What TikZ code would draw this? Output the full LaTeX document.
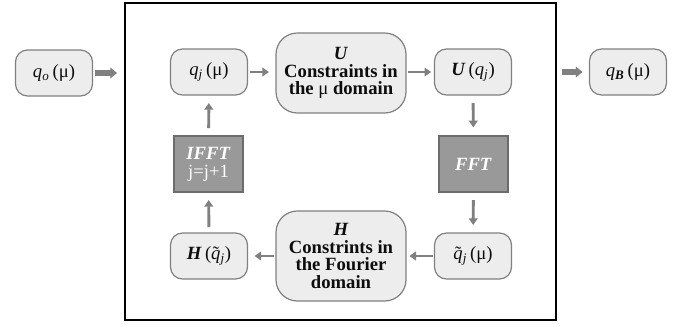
\documentclass[tikz,border=0pt]{standalone}
\usepackage{fontspec}
\setmainfont{Liberation Serif}
\usetikzlibrary{arrows.meta}
\definecolor{ink}{gray}{0.05}
\definecolor{edge}{gray}{0.50}
\definecolor{pale}{gray}{0.93}
\definecolor{slab}{gray}{0.60}
\definecolor{flowc}{gray}{0.50}
\newcommand{\tq}{\textit{q}\llap{\char"02DC\kern0.08em}}

\begin{document}
\begin{tikzpicture}[x=0.75pt,y=-0.75pt,
  every node/.style={inner sep=0pt,outer sep=0pt,text=ink,
    font=\fontsize{14}{13.4}\selectfont,align=center},
  sm/.style={draw=edge,fill=pale,line width=0.9pt,rounded corners=9pt,
    minimum width=57.75pt,minimum height=34.5pt},
  bg/.style={draw=edge,fill=pale,line width=0.9pt,rounded corners=16pt,
    minimum width=97.5pt,font=\bfseries\fontsize{14}{13.4}\selectfont},
  dk/.style={draw=edge!85!black,fill=slab,line width=0.9pt,text=white,
    minimum width=51.75pt,minimum height=42pt},
  frm/.style={draw=black,line width=1.2pt,minimum width=323.25pt,minimum height=237.75pt},
  flow/.style={draw=flowc,line width=2.2pt,-{Triangle[length=5pt,width=6.5pt]}},
  fat/.style={draw=flowc,line width=4.5pt,-{Triangle[length=5pt,width=8pt]}}]

\useasboundingbox (0,0) rectangle (677,326);

% ---- frame -------------------------------------------------------------
\node[frm] (loop) at (340.5,161.5) {};

% ---- outside -----------------------------------------------------------
\node[sm] (qo) at (54,73) {\textit{q}\textsubscript{\textit{o}}\,(μ)};
\node[sm] (qB) at (628,72) {\textit{q}\textsubscript{\textbf{\textit{B}}}\,(μ)};

% ---- top row -----------------------------------------------------------
\node[sm] (qj) at (209,72) {\textit{q}\textsubscript{\textit{j}}\,(μ)};
\node[bg,minimum height=60pt] (U) at (341,73)
  {\textit{U}\\Constraints in\\the {\mdseries μ} domain};
\node[sm] (Uq) at (473,72)
  {\textbf{\textit{U}}\,(\textit{q}\textsubscript{\textit{j}})};

% ---- middle ------------------------------------------------------------
\node[dk] (ifft) at (208.5,164) {\textbf{\textit{IFFT}}\\j=j+1};
\node[dk] (fft) at (473.5,164) {\textbf{\textit{FFT}}};

% ---- bottom row --------------------------------------------------------
\node[sm] (Hq) at (209,256)
  {\textbf{\textit{H}}\,(\tq\textsubscript{\textit{j}})};
\node[bg,minimum height=67.5pt] (H) at (341,256)
  {\textit{H}\\Constrints in\\the Fourier\\domain};
\node[sm] (qt) at (473,256) {\tq\textsubscript{\textit{j}}\,(μ)};

% ---- flow --------------------------------------------------------------
\draw[fat,shorten <=1.5pt,shorten >=6pt] (qo.east) -- (qo.east -| loop.west);
\draw[fat,shorten <=4.5pt,shorten >=5.25pt] (qB.west -| loop.east) -- (qB.west);

\draw[flow,shorten <=1.5pt,shorten >=5.25pt] (qj.east) -- (qj.east -| U.west);
\draw[flow,shorten <=1.5pt,shorten >=2.5pt] (U.east |- Uq.west) -- (Uq.west);
\draw[flow,shorten <=6pt,shorten >=6.5pt] (Uq) -- (fft);
\draw[flow,shorten <=6pt,shorten >=6pt] (fft) -- (qt);
\draw[flow,shorten <=1.5pt,shorten >=2.5pt] (qt) -- (H);
\draw[flow,shorten <=1.5pt,shorten >=5.25pt] (H) -- (Hq);
\draw[flow,shorten <=4.5pt,shorten >=6pt] (Hq) -- (ifft);
\draw[flow,shorten <=6pt,shorten >=6pt] (ifft) -- (qj);
\end{tikzpicture}
\end{document}
